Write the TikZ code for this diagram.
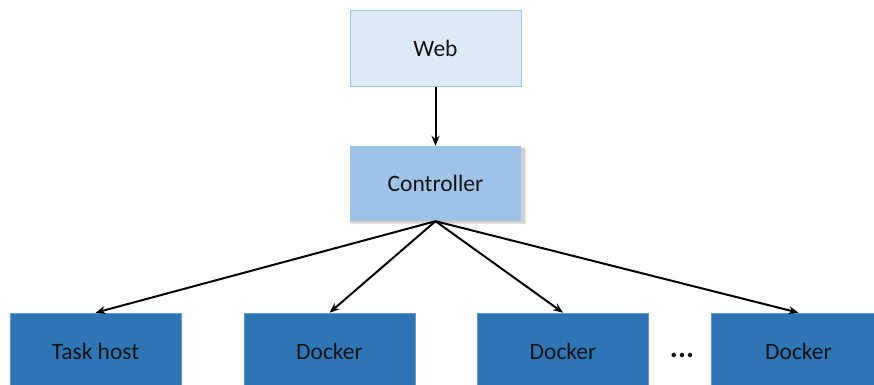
\documentclass[tikz,border=0pt]{standalone}
\usepackage{fontspec}
\setmainfont{Carlito}
\usetikzlibrary{arrows.meta}
\definecolor{weblight}{HTML}{DEEBF7}
\definecolor{webborder}{HTML}{9DC3E6}
\definecolor{ctrlfill}{HTML}{9DC3E6}
\definecolor{hostfill}{HTML}{2E75B6}
\definecolor{hostborder}{HTML}{5B9BD5}
\definecolor{txt}{HTML}{141414}
\tikzset{
  box/.style={rectangle, minimum width=171pt, minimum height=76pt, inner sep=0pt,
    font=\fontsize{23.5}{26}\selectfont, text=txt},
  webbox/.style={box, fill=weblight, draw=webborder, line width=0.8pt},
  ctrlbox/.style={box, fill=ctrlfill, minimum height=75pt},
  hostbox/.style={box, fill=hostfill, draw=hostborder, line width=0.6pt, minimum height=76pt},
  conn/.style={-{Stealth[length=10pt,width=8pt]}, line width=2pt, black}
}
\begin{document}
\begin{tikzpicture}[x=1pt,y=-1pt]
\useasboundingbox (0,0) rectangle (874,384);
\node[webbox] (web) at (435.5,48.5) {Web};
\fill[black!10] (351,149) rectangle (526,224);
\fill[black!18] (350,148) rectangle (524.5,222.5);
\node[ctrlbox] (ctrl) at (435.5,183.5) {Controller};
\node[hostbox] (h1) at (95.5,351) {Task host};
\node[hostbox] (h2) at (329.5,351) {Docker};
\node[hostbox] (h3) at (563,351) {Docker};
\node[hostbox, minimum width=175pt] (h4) at (798.5,351) {Docker};
\node[font=\fontsize{30}{30}\selectfont\bfseries, text=txt, inner sep=0pt, anchor=base] (dots) at (682,357) {...};
\draw[conn] (web.south) -- (ctrl.north);
\coordinate (hub) at (ctrl.south);
\draw[conn] (hub) -- (h1.north);
\draw[conn] (hub) -- (h2.north);
\draw[conn] (hub) -- (h3.north);
\draw[conn] (hub) -- (h4.north);
\end{tikzpicture}
\end{document}
